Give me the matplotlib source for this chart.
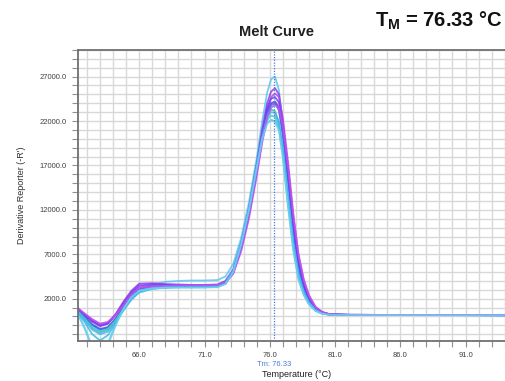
import matplotlib
matplotlib.use("Agg")
import matplotlib.pyplot as plt
from matplotlib.ticker import MultipleLocator, FixedLocator

plt.rcParams['font.family'] = ['Liberation Sans', 'DejaVu Sans']

# temperature points shared by all wells
temps = [61.3, 61.8, 62.4, 63.0, 63.6, 64.2, 64.8, 65.4, 66.0, 67.0, 68.0, 69.0, 70.0,
         71.0, 72.0, 72.6, 73.2, 73.8, 74.4, 75.0, 75.4, 75.8, 76.1, 76.4, 76.7, 77.0,
         77.4, 77.8, 78.2, 78.6, 79.0, 79.5, 80.0, 80.6, 82.0, 86.0, 90.0, 94.1]

# derivative reporter (-R') per well
well_a = [300, -1200, -3400, -4200, -3000, -800, 1300, 2500, 3100, 3600, 3900, 4000, 4050, 4050, 4100, 4500, 5900, 8800, 12800, 17800, 21800, 25200, 26700, 27000, 25500, 21600, 15200, 9200, 5200, 3000, 1700, 800, 400, 230, 190, 175, 165, 155]
well_b = [800, 200, -600, -1100, -800, 300, 1700, 2900, 3700, 3750, 3650, 3600, 3550, 3550, 3600, 4000, 5300, 8200, 12200, 17200, 20900, 24000, 25300, 25700, 25000, 22000, 16500, 10600, 6200, 3700, 2100, 1000, 480, 240, 190, 170, 160, 150]
well_c = [900, 300, -400, -900, -700, 200, 1400, 2600, 3300, 3450, 3500, 3500, 3450, 3450, 3500, 3850, 5000, 7600, 11400, 16300, 20000, 23300, 24700, 25100, 24700, 22300, 17400, 11600, 7000, 4200, 2400, 1100, 520, 250, 190, 170, 160, 150]
well_d = [700, 0, -900, -1400, -1200, -200, 1100, 2300, 3100, 3300, 3350, 3400, 3400, 3400, 3450, 3800, 5000, 7800, 11700, 16600, 20100, 23000, 24000, 24200, 23500, 20800, 15500, 9900, 5800, 3400, 1900, 900, 430, 220, 180, 170, 160, 150]
well_e = [600, -100, -1000, -1500, -1300, -300, 1000, 2200, 3000, 3250, 3300, 3350, 3350, 3350, 3400, 3750, 4900, 7600, 11400, 16200, 19700, 22700, 23800, 24000, 23200, 20300, 15000, 9500, 5500, 3200, 1800, 850, 420, 220, 180, 170, 160, 150]
well_f = [500, -300, -1300, -1800, -1500, -500, 800, 2000, 2800, 3150, 3250, 3300, 3300, 3300, 3350, 3700, 5000, 7900, 11900, 16900, 20300, 22700, 23300, 23100, 21800, 18400, 12800, 7800, 4400, 2600, 1500, 700, 350, 200, 170, 165, 155, 145]
well_g = [400, -600, -2000, -2700, -2100, -700, 700, 1900, 2700, 3100, 3250, 3300, 3300, 3300, 3350, 3700, 5100, 8100, 12100, 16900, 19900, 21800, 22100, 22000, 21200, 18200, 12700, 7700, 4300, 2500, 1400, 650, 330, 190, 170, 160, 150, 145]
well_h = [600, -200, -1200, -1700, -1400, -400, 900, 2100, 2900, 3200, 3300, 3300, 3300, 3300, 3350, 3700, 5000, 7900, 11800, 16600, 19900, 22100, 22600, 22500, 21400, 18600, 13300, 8200, 4700, 2700, 1600, 750, 370, 200, 175, 165, 155, 150]
well_i = [850, 250, -500, -1000, -800, 200, 1500, 2700, 3500, 3600, 3550, 3500, 3500, 3500, 3550, 3900, 5100, 7800, 11700, 16700, 20400, 23500, 24500, 24700, 24100, 21400, 16200, 10400, 6100, 3600, 2000, 950, 460, 230, 185, 170, 160, 150]
well_j = [500, -400, -1500, -2000, -1700, -600, 800, 2000, 2900, 3250, 3400, 3450, 3450, 3450, 3500, 3850, 5200, 8100, 12000, 16800, 20100, 22400, 23000, 22900, 21900, 19000, 13600, 8400, 4800, 2800, 1600, 750, 370, 200, 175, 165, 155, 150]
well_k = [950, 350, -300, -800, -600, 200, 1300, 2500, 3200, 3400, 3450, 3500, 3500, 3500, 3500, 3800, 4800, 7300, 11000, 15800, 19400, 22400, 23500, 23800, 23500, 21400, 16800, 11300, 6900, 4100, 2300, 1050, 500, 250, 190, 170, 160, 150]
well_l = [200, -1300, -3600, -4400, -3200, -1000, 900, 2200, 2900, 3150, 3250, 3250, 3250, 3250, 3300, 3650, 5000, 8000, 11900, 16700, 19800, 21700, 22100, 21900, 20900, 17800, 12300, 7400, 4100, 2400, 1350, 620, 320, 190, 170, 160, 150, 145]

wells = [well_a, well_b, well_c, well_d, well_e, well_f, well_g, well_h, well_i, well_j, well_k, well_l]
colors = ['#5cc6f0', '#8a3ee8', '#b04ae8', '#5a3ae0', '#3a6ee8', '#2ec4b6',
          '#3cbce0', '#40d0c0', '#7040f0', '#50b0f0', '#c050f0', '#70d0f0']

tm = 76.33
x_ticks = [66.0, 71.0, 76.0, 81.0, 86.0, 91.0]
y_ticks = [2000.0, 7000.0, 12000.0, 17000.0, 22000.0, 27000.0]

fig = plt.figure(figsize=(5.06, 3.81), dpi=100)
ax = fig.add_axes([0.154, 0.104, 0.846, 0.765])

for vals, c in zip(wells, colors):
    ax.plot(temps, vals, color=c, lw=1.3, alpha=0.85)

ax.axvline(tm, color='#4a7be0', lw=0.9, ls=(0, (1, 1.2)), zorder=5)

ax.set_xlim(61.3, 94.1)
ax.set_ylim(-2800, 30000)
ax.xaxis.set_major_locator(FixedLocator(x_ticks))
ax.xaxis.set_minor_locator(MultipleLocator(1))
ax.yaxis.set_major_locator(FixedLocator(y_ticks))
ax.yaxis.set_minor_locator(MultipleLocator(1000))
ax.set_xticklabels([f'{v:.1f}' for v in x_ticks])
ax.set_yticklabels([f'{v:.1f}' for v in y_ticks])
ax.grid(True, which='both', color='#d8d8d8', lw=1.0)
ax.set_axisbelow(True)
ax.tick_params(which='both', length=4, width=0.8, color='#909090',
               labelsize=5.5, labelcolor='#404040', pad=4)

for side in ['left', 'bottom', 'top']:
    ax.spines[side].set_color('#707070')
    ax.spines[side].set_linewidth(1.3)
ax.spines['right'].set_visible(False)

ax.set_ylabel("Derivative Reporter (-R')", fontsize=6.5, color='#303030', labelpad=10)
ax.set_xlabel('Temperature (°C)', fontsize=6.5, color='#202020')
ax.xaxis.set_label_coords(0.51, -0.098)
ax.text(tm, -0.081, f'Tm: {tm:.2f}', transform=ax.get_xaxis_transform(),
        ha='center', va='center', fontsize=5.5, color='#4a7be0')

fig.text(0.547, 0.917, 'Melt Curve', ha='center', va='center',
         fontsize=10.5, fontweight='bold', color='#202020')
fig.text(0.994, 0.945, r'T$_\mathregular{M}$ = 76.33 °C', ha='right', va='center',
         fontsize=14.5, fontweight='bold', color='#111111')

fig.savefig('out.png', dpi=100)
